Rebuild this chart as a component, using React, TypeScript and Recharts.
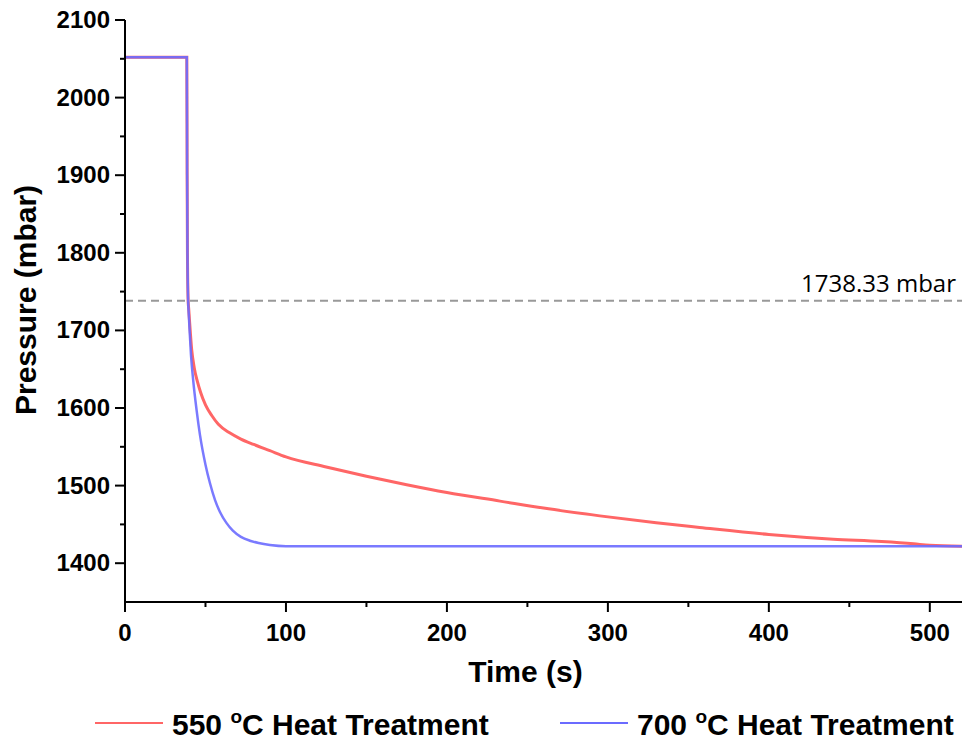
import { LineChart, Line, XAxis, YAxis, ReferenceLine } from 'recharts'

// time (s) / pressure (mbar)
const redTime = [0, 38.4, 38.6, 38.8, 39.2, 39.6, 40, 41.4, 43, 45, 47, 50, 54, 58, 65, 72, 80, 90, 100, 125, 150, 175, 200, 233, 260, 295, 330, 357, 400, 440, 470, 490, 500, 520]
const redPressure = [2052, 2052, 1900, 1800, 1740, 1727, 1715, 1676, 1652, 1634, 1620, 1604, 1590, 1579, 1568, 1560, 1553, 1545, 1537, 1524, 1512, 1501, 1491, 1480, 1471, 1461, 1452, 1446, 1437, 1431, 1428, 1425, 1423, 1422]

const blueTime = [0, 38.4, 38.6, 38.8, 39.2, 39.6, 40, 41, 42.4, 44.5, 46.6, 50, 52.8, 56, 59, 63, 67, 72, 77.6, 83, 90, 100, 520]
const bluePressure = [2052, 2052, 1900, 1800, 1740, 1722, 1705, 1668, 1635, 1597, 1565, 1527, 1503, 1481, 1466, 1452, 1442, 1434, 1429, 1426, 1423.5, 1422, 1422]

const xTicks = [0, 50, 100, 150, 200, 250, 300, 350, 400, 450, 500]
const yTicks = [1400, 1450, 1500, 1550, 1600, 1650, 1700, 1750, 1800, 1850, 1900, 1950, 2000, 2050, 2100]

const refPressure = 1738.33

const RED = '#ff6666'
const BLUE = '#6b6bff'
const FONT = '"Liberation Sans", Arial, sans-serif'

const redData = redTime.map((t, i) => ({ t, p: redPressure[i] }))
const blueData = blueTime.map((t, i) => ({ t, p: bluePressure[i] }))

function YTick({ x, y, payload }: any) {
  const major = payload.value % 100 === 0
  return (
    <g>
      <line x1={x - (major ? 10 : 5)} x2={x} y1={y} y2={y} stroke="#000" strokeWidth={2} />
      {major && (
        <text x={x - 15} y={y} dy={8} textAnchor="end" fontFamily={FONT} fontWeight="bold" fontSize={24} fill="#000">
          {payload.value}
        </text>
      )}
    </g>
  )
}

function XTick({ x, y, payload }: any) {
  const major = payload.value % 100 === 0
  return (
    <g>
      <line x1={x} x2={x} y1={y} y2={y + (major ? 10 : 5)} stroke="#000" strokeWidth={2} />
      {major && (
        <text x={x} y={y} dy={39} textAnchor="middle" fontFamily={FONT} fontWeight="bold" fontSize={24} fill="#000">
          {payload.value}
        </text>
      )}
    </g>
  )
}

function RefLabel({ viewBox }: any) {
  return (
    <text x={viewBox.x + viewBox.width - 6} y={viewBox.y - 9} textAnchor="end" fontFamily='"Open Sans", sans-serif' fontSize={24} fill="#000">
      1738.33 mbar
    </text>
  )
}

function LegendItem({ x, color, label }: { x: number; color: string; label: string }) {
  return (
    <g>
      <line x1={x} x2={x + 68} y1={723} y2={723} stroke={color} strokeWidth={2} />
      <text x={x + 77} y={735} fontFamily={FONT} fontWeight="bold" fontSize={30} fill="#000">
        {label} <tspan dy={-12} fontSize={19}>o</tspan><tspan dy={12}>C Heat Treatment</tspan>
      </text>
    </g>
  )
}

export default function App() {
  return (
    <div style={{ position: 'absolute', left: 0, top: 0, width: 962, height: 740, background: '#fff' }}>
      <LineChart width={962} height={740} margin={{ top: 20, right: 0, left: 0, bottom: 0 }}>
        <XAxis
          type="number"
          dataKey="t"
          domain={[0, 520]}
          ticks={xTicks}
          interval={0}
          allowDataOverflow
          height={138}
          tickSize={0}
          tickMargin={0}
          tick={<XTick />}
          axisLine={{ stroke: '#000', strokeWidth: 2 }}
          label={({ viewBox }: any) => (
            <text x={viewBox.x + viewBox.width / 2 - 18} y={viewBox.y + 80} textAnchor="middle" fontFamily={FONT} fontWeight="bold" fontSize={30} fill="#000">
              Time (s)
            </text>
          )}
        />
        <YAxis
          type="number"
          dataKey="p"
          domain={[1350, 2100]}
          ticks={yTicks}
          interval={0}
          allowDataOverflow
          width={125}
          tickSize={0}
          tickMargin={0}
          tick={<YTick />}
          axisLine={{ stroke: '#000', strokeWidth: 2 }}
          label={({ viewBox }: any) => (
            <text x={0} y={0} transform={`translate(36, ${viewBox.y + viewBox.height / 2 - 11}) rotate(-90)`} textAnchor="middle" fontFamily={FONT} fontWeight="bold" fontSize={30} fill="#000">
              Pressure (mbar)
            </text>
          )}
        />
        <ReferenceLine y={refPressure} stroke="#999" strokeWidth={2} strokeDasharray="8 5" label={<RefLabel />} />
        <Line data={redData} dataKey="p" type="monotone" stroke={RED} strokeWidth={3} dot={false} isAnimationActive={false} />
        <Line data={blueData} dataKey="p" type="monotone" stroke={BLUE} strokeWidth={2.5} strokeOpacity={0.9} dot={false} isAnimationActive={false} />
      </LineChart>
      <svg width={962} height={740} style={{ position: 'absolute', left: 0, top: 0, pointerEvents: 'none' }}>
        <LegendItem x={95} color={RED} label="550" />
        <LegendItem x={560} color={BLUE} label="700" />
      </svg>
    </div>
  )
}
